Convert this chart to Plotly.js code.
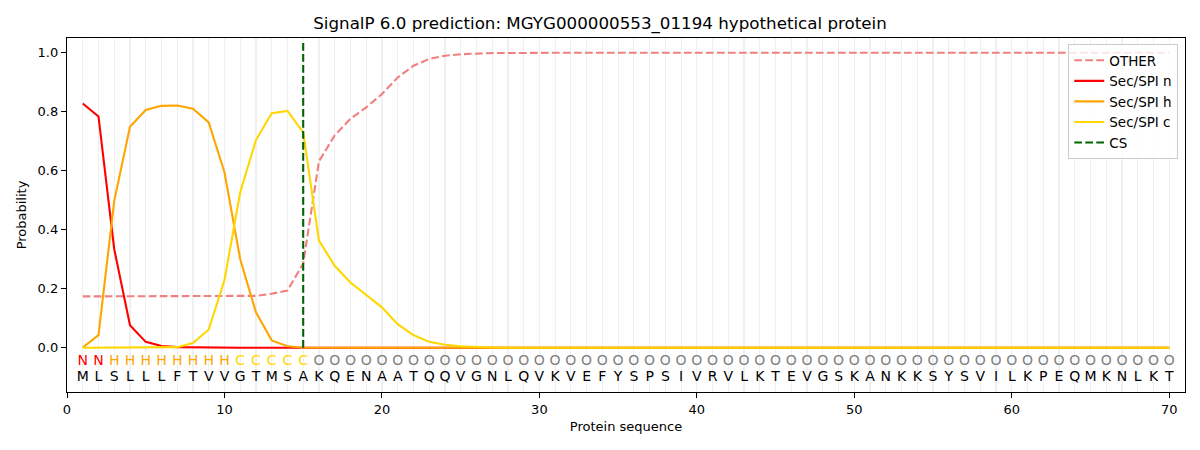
<!DOCTYPE html>
<html>
<head>
<meta charset="utf-8">
<script src="https://cdn.plot.ly/plotly-3.0.1.min.js"></script>
<style>html,body{margin:0;padding:0;background:#fff;}#chart{width:1200px;height:450px;}</style>
</head>
<body>
<div id="chart"></div>
<script>
const sequence = "MLSLLLFTVVGTMSAKQENAATQQVGNLQVKVEFYSPSIVRVLKTEVGSKANKKSYSVILKPEQMKNLKT".split("");
const regionLabels = "NNHHHHHHHHCCCCC".split("").concat(Array(55).fill("O"));
const positions = sequence.map((_, i) => i + 1);

const otherProb = [0.174,0.174,0.174,0.174,0.174,0.174,0.174,0.174,0.174,0.174,
  0.175,0.176,0.183,0.194,0.285,0.632,0.72,0.776,0.815,0.86,
  0.916,0.956,0.979,0.99,0.995,0.998,0.999,0.999,1,1,
  1,1,1,1,1,1,1,1,1,1, 1,1,1,1,1,1,1,1,1,1,
  1,1,1,1,1,1,1,1,1,1, 1,1,1,1,1,1,1,1,1,1];
const secN = [0.828,0.784,0.334,0.076,0.02,0.006,0.002,0.001,0,0,
  0,0,0,0,0,0,0,0,0,0, 0,0,0,0,0,0,0,0,0,0,
  0,0,0,0,0,0,0,0,0,0, 0,0,0,0,0,0,0,0,0,0,
  0,0,0,0,0,0,0,0,0,0, 0,0,0,0,0,0,0,0,0,0];
const secH = [0.001,0.043,0.498,0.749,0.806,0.82,0.821,0.81,0.764,0.595,
  0.3,0.12,0.025,0.005,0.001,0,0,0,0,0, 0,0,0,0,0,0,0,0,0,0,
  0,0,0,0,0,0,0,0,0,0, 0,0,0,0,0,0,0,0,0,0,
  0,0,0,0,0,0,0,0,0,0, 0,0,0,0,0,0,0,0,0,0];
const secC = [0,0,0,0,0,0,0.002,0.016,0.062,0.229,
  0.527,0.704,0.795,0.803,0.73,0.363,0.278,0.221,0.18,0.137,
  0.08,0.043,0.02,0.01,0.005,0.002,0.001,0,0,0,
  0,0,0,0,0,0,0,0,0,0, 0,0,0,0,0,0,0,0,0,0,
  0,0,0,0,0,0,0,0,0,0, 0,0,0,0,0,0,0,0,0,0];
const csPos = [15, 15];
const csSpan = [0, 1.04];
const xTicks = [0,10,20,30,40,50,60,70];
const yTicks = [0,0.2,0.4,0.6,0.8,1.0];

const labelColors = {N: "#ff0000", H: "#ffa500", C: "#ffd700", O: "#808080"};
const LW = 2.1;

const traces = [
  {x: positions, y: otherProb, name: "OTHER", mode: "lines",
   line: {color: "#f08080", width: LW, dash: "7.7px,3.3px"}},
  {x: positions, y: secN, name: "Sec/SPI n", mode: "lines",
   line: {color: "#ff0000", width: LW}},
  {x: positions, y: secH, name: "Sec/SPI h", mode: "lines",
   line: {color: "#ffa500", width: LW}},
  {x: positions, y: secC, name: "Sec/SPI c", mode: "lines",
   line: {color: "#ffd700", width: LW}},
  {x: csPos, y: csSpan, name: "CS", mode: "lines",
   line: {color: "#006400", width: LW, dash: "7.7px,3.3px"}},
  {x: positions, y: positions.map(() => -0.047), mode: "text", text: regionLabels,
   textfont: {family: "DejaVu Sans", size: 14, color: regionLabels.map(l => labelColors[l])},
   showlegend: false, hoverinfo: "skip"},
  {x: positions, y: positions.map(() => -0.1), mode: "text", text: sequence,
   textfont: {family: "DejaVu Sans", size: 14, color: "#000"},
   showlegend: false, hoverinfo: "skip"}
];

const layout = {
  width: 1200, height: 450,
  margin: {l: 67, r: 15, t: 38, b: 58},
  paper_bgcolor: "#fff", plot_bgcolor: "#fff",
  font: {family: "DejaVu Sans", size: 13, color: "#000"},
  title: {text: "SignalP 6.0 prediction: MGYG000000553_01194 hypothetical protein",
          font: {size: 16.7, color: "#000"}, x: 0.5, xanchor: "center", y: 0.949, yanchor: "middle"},
  xaxis: {range: [0, 71], tickvals: xTicks, ticks: "outside", ticklen: 5, tickcolor: "#000",
          showline: true, linecolor: "#000", linewidth: 1.2, mirror: true, zeroline: false,
          showgrid: true, gridcolor: "#f0f0f0", gridwidth: 1.2,
          minor: {dtick: 1, tick0: 0, showgrid: true, gridcolor: "#f0f0f0", gridwidth: 1.2},
          title: {text: "Protein sequence", font: {size: 13}, standoff: 6}, tickfont: {size: 13}},
  yaxis: {range: [-0.15, 1.05], tickvals: yTicks, tickformat: ".1f", ticks: "outside", ticklen: 5,
          tickcolor: "#000", showline: true, linecolor: "#000", linewidth: 1.2, mirror: true,
          zeroline: false, showgrid: false,
          title: {text: "Probability", font: {size: 13}, standoff: 8}, tickfont: {size: 13}},
  legend: {x: 0.994, xanchor: "right", y: 0.983, yanchor: "top", bgcolor: "rgba(255,255,255,0.8)",
           bordercolor: "#cccccc", borderwidth: 1, font: {size: 13.5}, tracegroupgap: 0},
  showlegend: true
};

Plotly.newPlot("chart", traces, layout, {displayModeBar: false, staticPlot: true});
</script>
</body>
</html>
